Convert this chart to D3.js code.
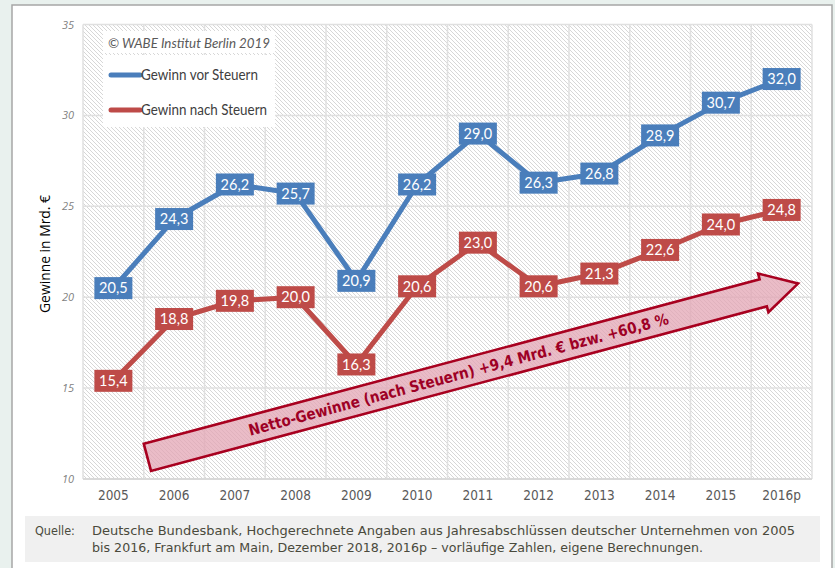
<!DOCTYPE html>
<html>
<head>
<meta charset="utf-8">
<script src="https://cdn.jsdelivr.net/npm/d3@7"></script>
<style>
  html, body { margin: 0; padding: 0; background: #e9f1ee; }
  svg { display: block; }
</style>
</head>
<body>
<svg id="chart" width="835" height="568"></svg>
<script>
// ---------- data ----------
const categories = ["2005","2006","2007","2008","2009","2010","2011","2012","2013","2014","2015","2016p"];
const vorSteuern  = [20.5, 24.3, 26.2, 25.7, 20.9, 26.2, 29.0, 26.3, 26.8, 28.9, 30.7, 32.0];
const nachSteuern = [15.4, 18.8, 19.8, 20.0, 16.3, 20.6, 23.0, 20.6, 21.3, 22.6, 24.0, 24.8];
const yTicks = [10, 15, 20, 25, 30, 35];
const seriesNames = ["Gewinn vor Steuern", "Gewinn nach Steuern"];
const copyrightText = "© WABE Institut Berlin  2019";
const yTitle = "Gewinne in Mrd.  €";
const arrowText = "Netto-Gewinne (nach Steuern) +9,4 Mrd. € bzw. +60,8 %";
// arrow annotation anchors in data space: [category index, value]
const arrowTail = [0.56, 11.19];
const arrowTip  = [11.27, 20.75];
const sourceLabel = "Quelle:";
const sourceLines = [
  "Deutsche Bundesbank, Hochgerechnete Angaben aus Jahresabschlüssen deutscher Unternehmen von 2005",
  "bis 2016, Frankfurt am Main, Dezember 2018, 2016p – vorläufige Zahlen, eigene Berechnungen."
];

// ---------- layout ----------
const svg = d3.select("#chart");
const plot = { left: 83, right: 812, top: 24.5, bottom: 479 };
const colors = { vor: "#4a7ebb", nach: "#be4b48" };

const x = d3.scaleBand().domain(categories).range([plot.left, plot.right]).paddingInner(0).paddingOuter(0);
const xIdx = d3.scaleLinear().domain([0, categories.length - 1])
  .range([x(categories[0]) + x.bandwidth() / 2, x(categories[categories.length - 1]) + x.bandwidth() / 2]);
const y = d3.scaleLinear().domain([10, 35]).range([plot.bottom, plot.top]);

// defs: hatch pattern
const defs = svg.append("defs");
const pat = defs.append("pattern").attr("id", "hatch").attr("patternUnits", "userSpaceOnUse")
  .attr("width", 4).attr("height", 4);
pat.append("rect").attr("width", 4).attr("height", 4).attr("fill", "#ffffff");
pat.append("path").attr("d", "M-1,-1 L5,5 M-1,3 L1,5 M3,-1 L5,1")
  .attr("stroke", "#d2d2d2").attr("stroke-width", 0.9);

// outer panel
svg.append("rect").attr("x", 12).attr("y", 5).attr("width", 820).attr("height", 580)
  .attr("fill", "#ffffff").attr("stroke", "#a6a6a6").attr("stroke-width", 1.5);

// plot background
svg.append("rect").attr("x", plot.left).attr("y", plot.top)
  .attr("width", plot.right - plot.left).attr("height", plot.bottom - plot.top)
  .attr("fill", "url(#hatch)");

// gridlines
const grid = svg.append("g");
grid.selectAll("line.h").data(yTicks).join("line")
  .attr("x1", plot.left).attr("x2", plot.right)
  .attr("y1", d => y(d)).attr("y2", d => y(d))
  .attr("stroke", "#e0e0e0").attr("stroke-width", 1.5);
grid.selectAll("line.v").data(categories.concat(["end"])).join("line")
  .attr("x1", (d, i) => plot.left + i * x.bandwidth()).attr("x2", (d, i) => plot.left + i * x.bandwidth())
  .attr("y1", plot.top).attr("y2", plot.bottom)
  .attr("stroke", "#e0e0e0").attr("stroke-width", 1.5);
svg.append("line").attr("x1", plot.left).attr("x2", plot.right).attr("y1", plot.bottom).attr("y2", plot.bottom)
  .attr("stroke", "#d9d9d9").attr("stroke-width", 2);

// y axis
const yAxis = d3.axisLeft(y).tickValues(yTicks).tickSize(0).tickPadding(8).tickFormat(d3.format("d"));
const gy = svg.append("g").attr("transform", `translate(${plot.left - 1},0)`).call(yAxis);
gy.select(".domain").remove();
gy.selectAll("text").attr("font-family", "'Open Sans', sans-serif").attr("font-style", "italic")
  .attr("font-size", 11).attr("fill", "#7f7f7f");

// x axis
const xAxis = d3.axisBottom(x).tickSize(0).tickPadding(11);
const gx = svg.append("g").attr("transform", `translate(0,${plot.bottom})`).call(xAxis);
gx.select(".domain").remove();
gx.selectAll("text").attr("font-family", "'DejaVu Sans Condensed', 'DejaVu Sans', sans-serif")
  .attr("font-size", 13.5).attr("fill", "#595959");

// y title
svg.append("text").attr("transform", `translate(50,254) rotate(-90)`).attr("text-anchor", "middle")
  .attr("font-family", "'Open Sans', sans-serif").attr("font-size", 14.5).attr("fill", "#000")
  .attr("textLength", 118).attr("lengthAdjust", "spacingAndGlyphs")
  .text(yTitle);

// arrow annotation
const t0 = [xIdx(arrowTail[0]), y(arrowTail[1])];
const t1 = [xIdx(arrowTip[0]), y(arrowTip[1])];
const len = Math.hypot(t1[0] - t0[0], t1[1] - t0[1]);
const ang = Math.atan2(t1[1] - t0[1], t1[0] - t0[0]) * 180 / Math.PI;
const shaftHW = 14, headHW = 20, headLen = 36;
const ag = svg.append("g").attr("transform", `translate(${t0[0]},${t0[1]}) rotate(${ang})`);
ag.append("path")
  .attr("d", `M0,${-shaftHW} L${len - headLen},${-shaftHW} L${len - headLen},${-headHW} L${len},0 L${len - headLen},${headHW} L${len - headLen},${shaftHW} L0,${shaftHW} Z`)
  .attr("fill", "#e3a6b4").attr("fill-opacity", 0.75)
  .attr("stroke", "#a8001f").attr("stroke-width", 2.6).attr("stroke-linejoin", "miter");
ag.append("text").attr("x", 322).attr("y", 0).attr("dy", "0.36em").attr("text-anchor", "middle")
  .attr("font-family", "'DejaVu Sans Condensed', 'DejaVu Sans', sans-serif").attr("font-weight", "bold")
  .attr("font-size", 15.5).attr("fill", "#9e0025")
  .attr("textLength", 434).attr("lengthAdjust", "spacingAndGlyphs")
  .text(arrowText);

// lines
const lineGen = d3.line().x((d, i) => x(categories[i]) + x.bandwidth() / 2).y(d => y(d));
const series = [
  { name: seriesNames[0], values: vorSteuern, color: colors.vor },
  { name: seriesNames[1], values: nachSteuern, color: colors.nach }
];
series.forEach(s => {
  svg.append("path").datum(s.values).attr("d", lineGen)
    .attr("fill", "none").attr("stroke", s.color).attr("stroke-width", 5)
    .attr("stroke-linejoin", "round").attr("stroke-linecap", "round");
});

// data labels
const fmt = v => d3.format(".1f")(v).replace(".", ",");
series.forEach(s => {
  const g = svg.append("g");
  const lg = g.selectAll("g").data(s.values).join("g")
    .attr("transform", (d, i) => `translate(${x(categories[i]) + x.bandwidth() / 2},${y(d)})`);
  lg.append("rect").attr("x", -19).attr("y", -11).attr("width", 38).attr("height", 22).attr("fill", s.color);
  lg.append("text").attr("text-anchor", "middle").attr("dy", "0.36em")
    .attr("font-family", "Lato, 'Open Sans', sans-serif").attr("font-size", 14.5).attr("fill", "#ffffff")
    .text(d => fmt(d));
});

// legend
svg.append("rect").attr("x", 103).attr("y", 31).attr("width", 172).attr("height", 22).attr("fill", "#ffffff");
svg.append("rect").attr("x", 103).attr("y", 55).attr("width", 172).attr("height", 72).attr("fill", "#ffffff");
svg.append("text").attr("x", 108).attr("y", 48).attr("font-family", "Lato, 'Open Sans', sans-serif")
  .attr("font-style", "italic").attr("font-size", 14).attr("fill", "#595959")
  .attr("textLength", 162).attr("lengthAdjust", "spacingAndGlyphs").text(copyrightText);
const legY = [75, 110];
const legLen = [117, 126];
series.forEach((s, i) => {
  svg.append("line").attr("x1", 111).attr("x2", 140).attr("y1", legY[i]).attr("y2", legY[i])
    .attr("stroke", s.color).attr("stroke-width", 5).attr("stroke-linecap", "round");
  svg.append("text").attr("x", 141).attr("y", legY[i]).attr("dy", "0.35em")
    .attr("font-family", "Lato, 'Open Sans', sans-serif").attr("font-size", 14.5).attr("fill", "#404040")
    .attr("textLength", legLen[i]).attr("lengthAdjust", "spacingAndGlyphs")
    .text(s.name);
});

// source box
svg.append("rect").attr("x", 25).attr("y", 516).attr("width", 795).attr("height", 46).attr("fill", "#f0f0f0");
const srcFont = "'DejaVu Sans Condensed', 'DejaVu Sans', sans-serif";
svg.append("text").attr("x", 35).attr("y", 535).attr("font-family", srcFont).attr("font-size", 12.5)
  .attr("fill", "#4a4a3c").text(sourceLabel);
svg.selectAll("text.src").data(sourceLines).join("text").attr("class", "src")
  .attr("x", 92).attr("y", (d, i) => 535 + i * 17).attr("font-family", srcFont).attr("font-size", 12.5)
  .attr("fill", "#4a4a3c")
  .attr("textLength", (d, i) => i === 0 ? 703 : 611).attr("lengthAdjust", "spacingAndGlyphs")
  .text(d => d);
</script>
</body>
</html>
